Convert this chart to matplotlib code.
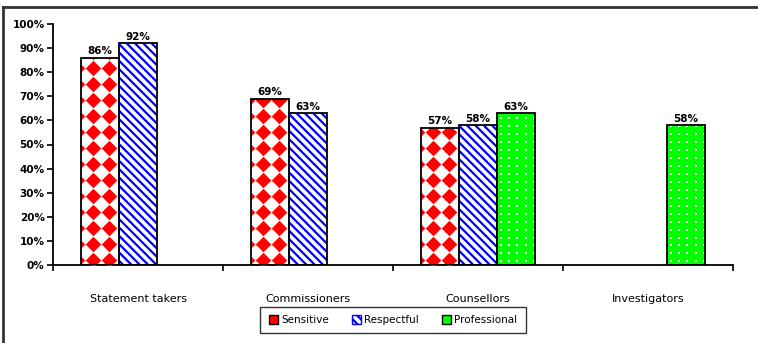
import matplotlib.pyplot as plt
import numpy as np
from matplotlib.patches import Patch
from matplotlib.lines import Line2D

# 数据
categories = ['Statement takers', 'Commissioners', 'Counsellors', 'Investigators']
series = ['Sensitive', 'Respectful', 'Professional']
sensitive = [86, 69, 57, None]
respectful = [92, 63, 58, None]
professional = [None, None, 63, 58]
yticks = list(range(0, 101, 10))

plt.rcParams['font.family'] = ['DejaVu Sans']
plt.rcParams['hatch.linewidth'] = 1.6

fig = plt.figure(figsize=(7.58, 3.43), dpi=100)
ax = fig.add_axes([53 / 758, 1 - 265 / 343, 680 / 758, 241 / 343])

# 外框 (只有左边和上边)
fig.add_artist(Line2D([3 / 758, 3 / 758], [0, 1 - 7 / 343], transform=fig.transFigure, color='#333333', lw=2))
fig.add_artist(Line2D([3 / 758, 1], [1 - 7 / 343, 1 - 7 / 343], transform=fig.transFigure, color='#333333', lw=2))

x = np.arange(len(categories))
w = 0.224
offsets = [-w, 0, w]


def draw_bar(xc, h, kind):
    if kind == 'Sensitive':
        bar = ax.bar(xc, h, w, color='white', edgecolor='none', zorder=2)[0]
        # 红色菱形图案
        bx = bar.get_x()
        gx = np.arange(bx - 0.024, bx + w + 0.03, w / 2.4)
        gy = np.arange(2.1, h + 4, 6.64)
        X, Y = np.meshgrid(gx, gy)
        sc = ax.scatter(X.ravel(), Y.ravel(), marker='D', s=62, color='red', linewidths=0, zorder=3)
        sc.set_clip_path(bar)
    elif kind == 'Respectful':
        ax.bar(xc, h, w, color='white', edgecolor='blue', hatch='\\\\\\\\', lw=0, zorder=2)
    else:
        bar = ax.bar(xc, h, w, color='#00ff00', edgecolor='none', zorder=2)[0]
        bx = bar.get_x()
        gx = np.arange(bx + w / 10, bx + w, w / 4.6)
        gy = np.arange(1.5, h, 3.3)
        X, Y = np.meshgrid(gx, gy)
        sc = ax.scatter(X.ravel(), Y.ravel(), marker='s', s=1.5, color='white', linewidths=0, zorder=3)
        sc.set_clip_path(bar)
    ax.bar(xc, h, w, fill=False, edgecolor='black', lw=1.3, zorder=4)
    ax.text(xc, h + 0.6, f'{h}%', ha='center', va='bottom', fontsize=7.5, fontweight='bold', zorder=5)


for vals, off, name in zip([sensitive, respectful, professional], offsets, series):
    for xi, v in zip(x, vals):
        if v is not None:
            draw_bar(xi + off, v, name)

ax.set_xlim(-0.5, len(categories) - 0.5)
ax.set_ylim(0, 100)
ax.set_yticks(yticks)
ax.set_yticklabels([f'{t}%' for t in yticks], fontsize=7.5, fontweight='bold')
ax.set_xticks(x)
ax.set_xticklabels(categories, fontsize=8)
ax.set_xticks(np.arange(-0.5, len(categories)), minor=True)
ax.tick_params(axis='x', which='major', length=0, pad=21)
ax.tick_params(axis='x', which='minor', length=4, width=1.2, direction='out')
ax.tick_params(axis='y', length=4, width=1.2, direction='out', pad=2)
for s in ['top', 'right']:
    ax.spines[s].set_visible(False)
for s in ['left', 'bottom']:
    ax.spines[s].set_linewidth(1.3)

# 图例
handles = [
    Patch(facecolor='red', edgecolor='black', label='Sensitive'),
    Patch(facecolor='white', edgecolor='blue', hatch='\\\\\\\\', label='Respectful'),
    Patch(facecolor='#00ff00', edgecolor='black', label='Professional'),
]
leg = ax.legend(handles=handles, loc='center', bbox_to_anchor=(0.5, -0.228), ncol=3,
                fancybox=False, edgecolor='black', fontsize=7.5, handlelength=0.9,
                handleheight=0.9, handletextpad=0.3, columnspacing=2.2, borderpad=0.8)
leg.get_frame().set_linewidth(1.0)

fig.savefig('out.png', dpi=100)
